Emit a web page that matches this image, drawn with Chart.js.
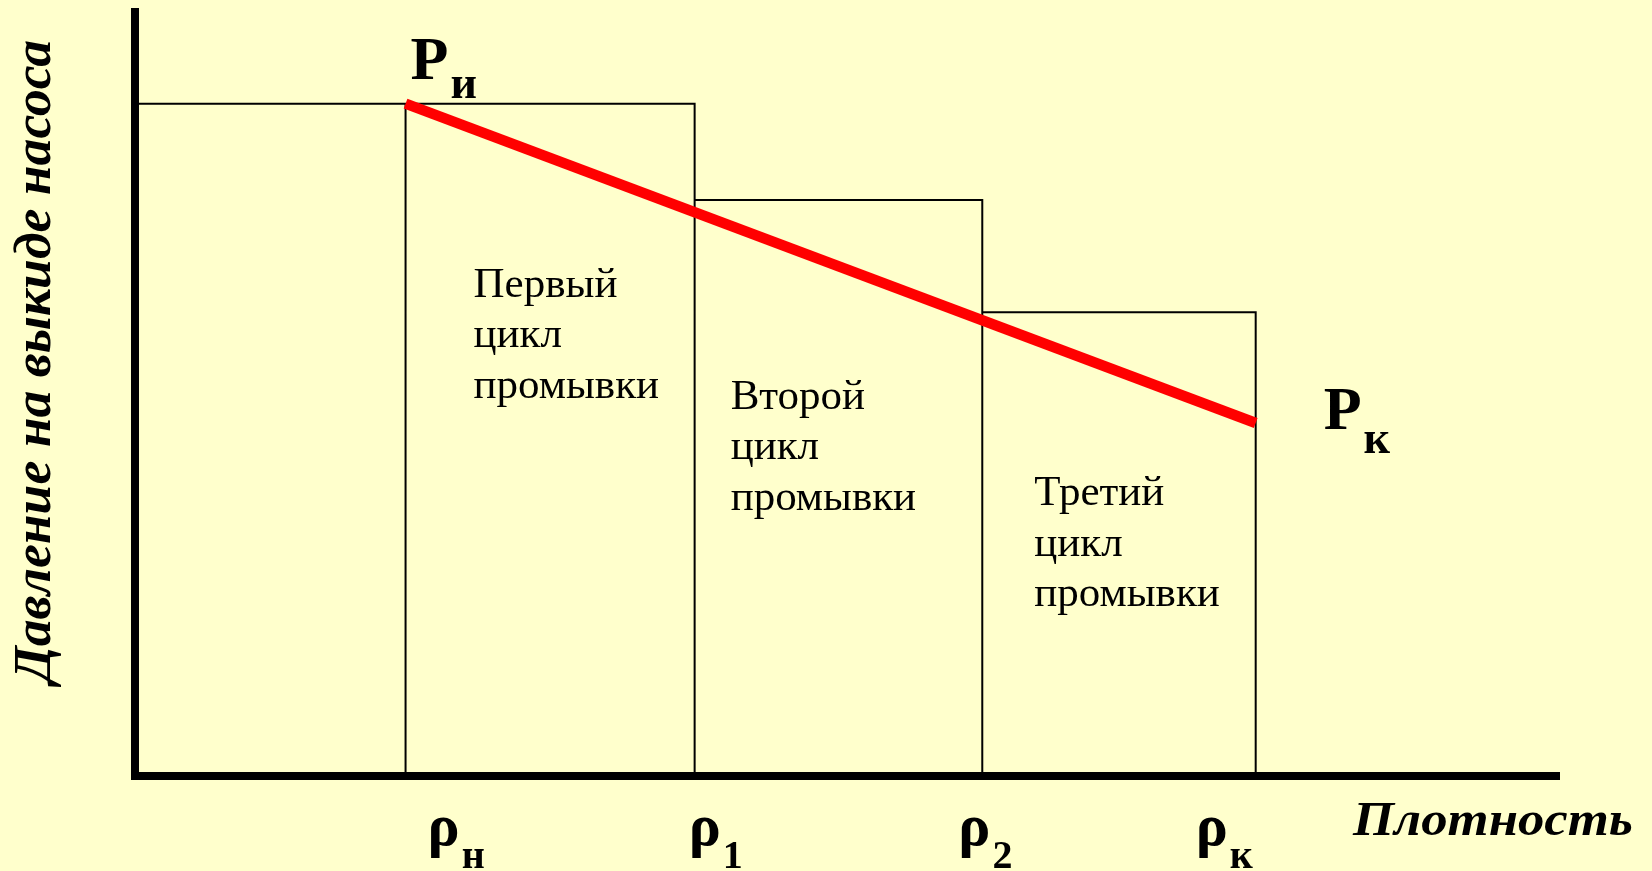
<!DOCTYPE html>
<html lang="ru">
<head>
<meta charset="utf-8">
<title>Давление на выкиде насоса</title>
<script src="https://cdn.jsdelivr.net/npm/chart.js@4/dist/chart.umd.min.js"></script>
<style>
    html, body { margin: 0; padding: 0; background: #ffffcc; overflow: hidden; }
    canvas { display: block; }
</style>
</head>
<body>
<canvas class="js-graph" width="1652" height="871"></canvas>
<script>
// density marks on the x axis: ρн, ρ1, ρ2, ρк
const rho_subs = ['н', '1', '2', 'к'];
const rho_values = [1.90, 3.93, 5.95, 7.87];
// top of each step: before ρн, first, second, third cycle
const step_tops = [8.80, 8.80, 7.54, 6.07];
const cycle_names = ['Первый', 'Второй', 'Третий'];
// pump pressure at start (Pи) and end (Pк)
const pressure_subs = ['и', 'к'];
const pressure_values = [8.80, 4.62];
const x_max = 10;
const y_max = 10;

{
    const font = '"Liberation Serif", "Times New Roman", serif';

    const build_steps = () => {
        const edges = [0, ...rho_values];
        const points = [];
        step_tops.forEach((top, i) => {
            points.push({x: edges[i], y: top}, {x: edges[i + 1], y: top}, {x: edges[i + 1], y: 0});
            points.push({x: edges[i + 1], y: null});
        });
        return points;
    };

    // letter with a subscript after it
    const draw_sub = (ctx, main, sub, left, base, sub_base, main_size, sub_size) => {
        ctx.font = `bold ${main_size}px ${font}`;
        ctx.fillText(main, left, base);
        const w = ctx.measureText(main).width;
        ctx.font = `bold ${sub_size}px ${font}`;
        ctx.fillText(sub, left + w + 2, sub_base);
    };

    // text squeezed/stretched to a given width, left aligned at (0,0)
    const fit_text = (ctx, text, width) => {
        const w = ctx.measureText(text).width;
        ctx.save();
        ctx.scale(width / w, 1);
        ctx.fillText(text, 0, 0);
        ctx.restore();
    };

    const labels_plugin = {
        id: 'labels',
        afterDraw(chart) {
            const {ctx, scales: {x, y}} = chart;
            ctx.save();
            ctx.fillStyle = '#000';
            ctx.textBaseline = 'alphabetic';
            ctx.textAlign = 'left';

            // cycle names inside the steps
            const cycle_dx = [68, 36, 52];
            const cycle_dy = [193, 209, 193];
            ctx.font = `43px ${font}`;
            cycle_names.forEach((name, i) => {
                const left = x.getPixelForValue(rho_values[i]) + cycle_dx[i];
                const top = y.getPixelForValue(step_tops[i + 1]) + cycle_dy[i];
                [name, 'цикл', 'промывки'].forEach((line, j) => ctx.fillText(line, left, top + j * 50.5));
            });

            // ρ tick labels
            const rho_dx = [22, -6, -24, -60];
            const axis_y = y.getPixelForValue(0);
            rho_values.forEach((v, i) => {
                const left = x.getPixelForValue(v) + rho_dx[i];
                draw_sub(ctx, 'ρ', rho_subs[i], left, axis_y + 69, axis_y + 92, 60, 40);
            });

            // P labels at the ends of the red line
            const p0x = x.getPixelForValue(rho_values[0]);
            const p0y = y.getPixelForValue(pressure_values[0]);
            draw_sub(ctx, 'P', pressure_subs[0], p0x + 5, p0y - 25, p0y - 6, 62, 46);
            const p1x = x.getPixelForValue(rho_values[3]);
            const p1y = y.getPixelForValue(pressure_values[1]);
            draw_sub(ctx, 'P', pressure_subs[1], p1x + 68, p1y + 6, p1y + 30, 62, 46);

            // axis titles
            ctx.font = `italic bold 48px ${font}`;
            ctx.save();
            ctx.translate(1353, 835);
            fit_text(ctx, 'Плотность', 280);
            ctx.restore();

            ctx.font = `italic bold 52px ${font}`;
            const title = 'Давление на выкиде насоса';
            ctx.translate(50, 683);
            ctx.rotate(-Math.PI / 2);
            fit_text(ctx, title, 643);
            ctx.restore();
        }
    };

    const draw_chart = () => {
        const ctx = document.querySelector('.js-graph').getContext('2d');

        const data = {
            datasets: [{
                label: 'Давление',
                data: [
                    {x: rho_values[0], y: pressure_values[0]},
                    {x: rho_values[rho_values.length - 1], y: pressure_values[1]}
                ],
                showLine: true,
                borderColor: '#ff0000',
                borderWidth: 10.5,
                borderCapStyle: 'butt',
                pointRadius: 0,
            }, {
                label: 'Циклы',
                data: build_steps(),
                showLine: true,
                spanGaps: false,
                borderColor: '#000000',
                borderWidth: 2,
                pointRadius: 0,
            }]
        };

        const axis = (max) => ({
            type: 'linear',
            min: 0,
            max: max,
            ticks: {display: false},
            grid: {display: false, drawTicks: false},
            border: {display: true, color: '#000000', width: 8},
        });

        new Chart(ctx, {
            type: 'scatter',
            data: data,
            options: {
                responsive: false,
                animation: false,
                devicePixelRatio: 1,
                layout: {padding: {left: 135, right: 93, top: 12, bottom: 95}},
                scales: {x: axis(x_max), y: axis(y_max)},
                plugins: {
                    legend: {display: false},
                    tooltip: {enabled: false},
                }
            },
            plugins: [labels_plugin]
        });
    };

    draw_chart();
}
</script>
</body>
</html>
